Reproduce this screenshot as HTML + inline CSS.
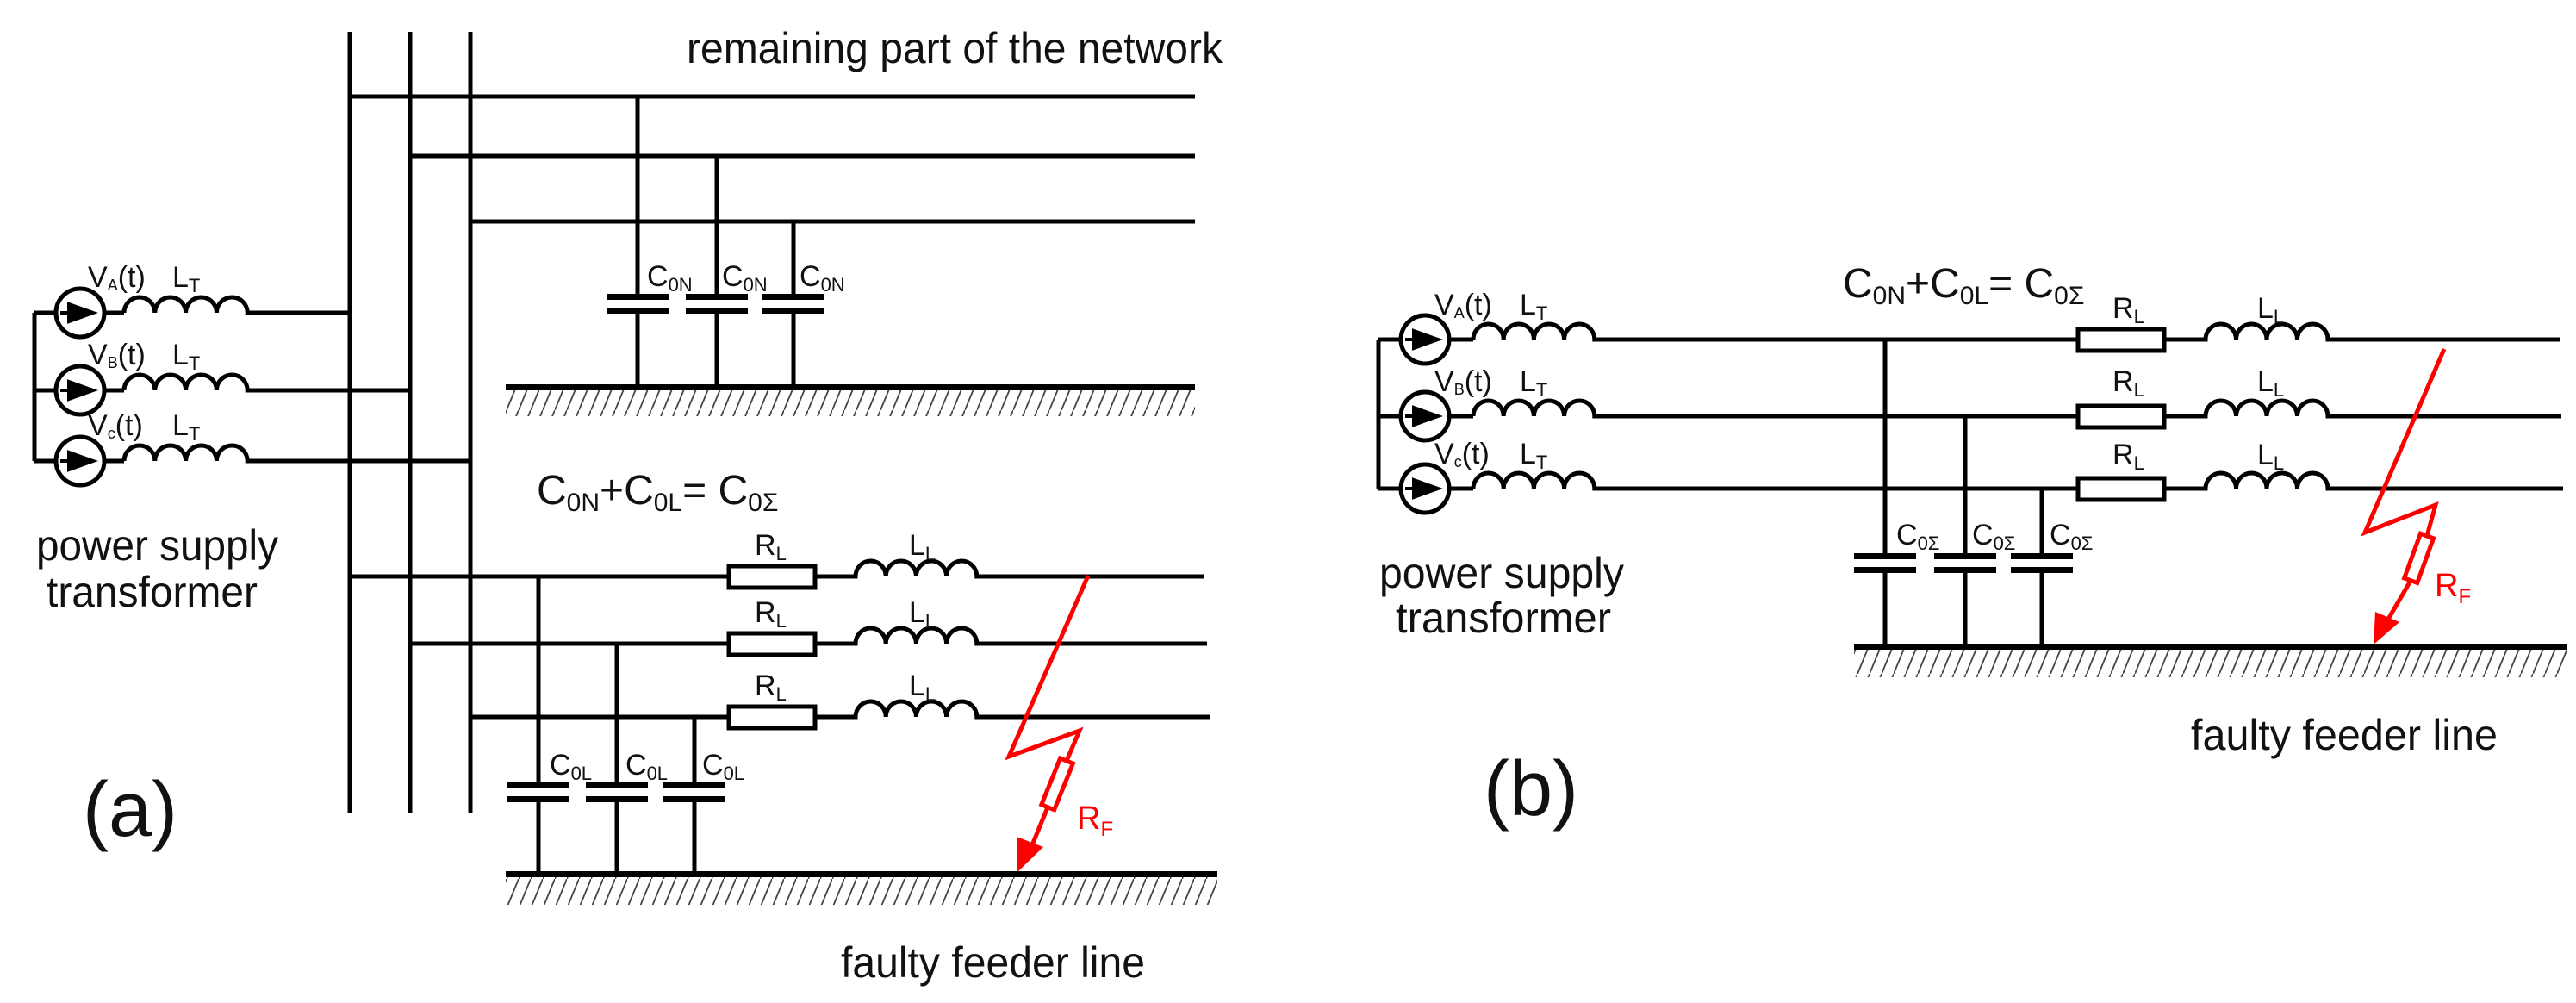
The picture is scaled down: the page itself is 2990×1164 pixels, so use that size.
<!DOCTYPE html>
<html><head><meta charset="utf-8"><style>
html,body{margin:0;padding:0;background:#fff}
svg{display:block}
text{font-family:"Liberation Sans",sans-serif;fill:#111}
</style></head><body>
<svg width="2990" height="1164" viewBox="0 0 2990 1164" xmlns="http://www.w3.org/2000/svg">
<defs>
<pattern id="h" width="14" height="34" patternUnits="userSpaceOnUse">
<line x1="14" y1="0" x2="0" y2="34" stroke="#444" stroke-width="1.8"/>
</pattern>
</defs>
<g stroke="#000" stroke-width="5" fill="none" stroke-linecap="butt">
<line x1="406" y1="37" x2="406" y2="944"/>
<line x1="476" y1="37" x2="476" y2="944"/>
<line x1="546" y1="37" x2="546" y2="944"/>
<line x1="406" y1="112" x2="1387" y2="112"/>
<line x1="476" y1="181" x2="1387" y2="181"/>
<line x1="546" y1="257" x2="1387" y2="257"/>
<line x1="740" y1="112" x2="740" y2="345"/><line x1="740" y1="360" x2="740" y2="449"/>
<line x1="832" y1="181" x2="832" y2="345"/><line x1="832" y1="360" x2="832" y2="449"/>
<line x1="921" y1="257" x2="921" y2="345"/><line x1="921" y1="360" x2="921" y2="449"/>
<line x1="40" y1="363" x2="40" y2="535"/>
<line x1="40" y1="363" x2="65" y2="363"/><line x1="40" y1="453" x2="65" y2="453"/><line x1="40" y1="535" x2="65" y2="535"/>
<circle cx="93" cy="363" r="28"/><circle cx="93" cy="453" r="28"/><circle cx="93" cy="535" r="28"/>
<line x1="121" y1="363" x2="144" y2="363"/><line x1="121" y1="453" x2="144" y2="453"/><line x1="121" y1="535" x2="144" y2="535"/>
<path d="M144 363 a17.9 18 0 0 1 35.8 0 a17.9 18 0 0 1 35.8 0 a17.9 18 0 0 1 35.8 0 a17.9 18 0 0 1 35.8 0 H406"/>
<path d="M144 453 a17.9 18 0 0 1 35.8 0 a17.9 18 0 0 1 35.8 0 a17.9 18 0 0 1 35.8 0 a17.9 18 0 0 1 35.8 0 H476"/>
<path d="M144 535 a17.9 18 0 0 1 35.8 0 a17.9 18 0 0 1 35.8 0 a17.9 18 0 0 1 35.8 0 a17.9 18 0 0 1 35.8 0 H546"/>
<path d="M406 669 H846 M946 669 H993 a17.6 18 0 0 1 35.2 0 a17.6 18 0 0 1 35.2 0 a17.6 18 0 0 1 35.2 0 a17.6 18 0 0 1 35.2 0 H1397"/>
<path d="M476 747 H846 M946 747 H993 a17.6 18 0 0 1 35.2 0 a17.6 18 0 0 1 35.2 0 a17.6 18 0 0 1 35.2 0 a17.6 18 0 0 1 35.2 0 H1401"/>
<path d="M546 832 H846 M946 832 H993 a17.6 18 0 0 1 35.2 0 a17.6 18 0 0 1 35.2 0 a17.6 18 0 0 1 35.2 0 a17.6 18 0 0 1 35.2 0 H1405"/>
<rect x="846" y="657" width="100" height="25"/>
<rect x="846" y="735" width="100" height="25"/>
<rect x="846" y="820" width="100" height="25"/>
<line x1="625" y1="669" x2="625" y2="912"/><line x1="625" y1="928" x2="625" y2="1014"/>
<line x1="716" y1="747" x2="716" y2="912"/><line x1="716" y1="928" x2="716" y2="1014"/>
<line x1="806" y1="832" x2="806" y2="912"/><line x1="806" y1="928" x2="806" y2="1014"/>

<line x1="1600" y1="394" x2="1600" y2="567"/>
<line x1="1600" y1="394" x2="1626" y2="394"/><line x1="1600" y1="483" x2="1626" y2="483"/><line x1="1600" y1="567" x2="1626" y2="567"/>
<circle cx="1654" cy="394" r="28"/><circle cx="1654" cy="483" r="28"/><circle cx="1654" cy="567" r="28"/>
<line x1="1682" y1="394" x2="1710" y2="394"/><line x1="1682" y1="483" x2="1710" y2="483"/><line x1="1682" y1="567" x2="1710" y2="567"/>
<path d="M1710 394 a17.6 18 0 0 1 35.2 0 a17.6 18 0 0 1 35.2 0 a17.6 18 0 0 1 35.2 0 a17.6 18 0 0 1 35.2 0 H2412 M2512 394 H2560 a17.75 18 0 0 1 35.5 0 a17.75 18 0 0 1 35.5 0 a17.75 18 0 0 1 35.5 0 a17.75 18 0 0 1 35.5 0 H2971"/>
<path d="M1710 483 a17.6 18 0 0 1 35.2 0 a17.6 18 0 0 1 35.2 0 a17.6 18 0 0 1 35.2 0 a17.6 18 0 0 1 35.2 0 H2412 M2512 483 H2560 a17.75 18 0 0 1 35.5 0 a17.75 18 0 0 1 35.5 0 a17.75 18 0 0 1 35.5 0 a17.75 18 0 0 1 35.5 0 H2973"/>
<path d="M1710 567 a17.6 18 0 0 1 35.2 0 a17.6 18 0 0 1 35.2 0 a17.6 18 0 0 1 35.2 0 a17.6 18 0 0 1 35.2 0 H2412 M2512 567 H2560 a17.75 18 0 0 1 35.5 0 a17.75 18 0 0 1 35.5 0 a17.75 18 0 0 1 35.5 0 a17.75 18 0 0 1 35.5 0 H2975"/>
<rect x="2412" y="382" width="100" height="25"/>
<rect x="2412" y="471" width="100" height="25"/>
<rect x="2412" y="555" width="100" height="25"/>
<line x1="2188" y1="394" x2="2188" y2="646"/><line x1="2188" y1="662" x2="2188" y2="750"/>
<line x1="2281" y1="483" x2="2281" y2="646"/><line x1="2281" y1="662" x2="2281" y2="750"/>
<line x1="2370" y1="567" x2="2370" y2="646"/><line x1="2370" y1="662" x2="2370" y2="750"/>
</g>
<g fill="#000">
<rect x="704" y="341" width="72" height="7"/><rect x="704" y="357" width="72" height="7"/>
<rect x="796" y="341" width="72" height="7"/><rect x="796" y="357" width="72" height="7"/>
<rect x="885" y="341" width="72" height="7"/><rect x="885" y="357" width="72" height="7"/>
<rect x="587" y="446" width="800" height="7"/>
<rect x="589" y="908" width="72" height="7"/><rect x="589" y="924" width="72" height="7"/>
<rect x="680" y="908" width="72" height="7"/><rect x="680" y="924" width="72" height="7"/>
<rect x="770" y="908" width="72" height="7"/><rect x="770" y="924" width="72" height="7"/>
<rect x="587" y="1011" width="826" height="7"/>
<rect x="2152" y="642" width="72" height="7"/><rect x="2152" y="658" width="72" height="7"/>
<rect x="2245" y="642" width="72" height="7"/><rect x="2245" y="658" width="72" height="7"/>
<rect x="2334" y="642" width="72" height="7"/><rect x="2334" y="658" width="72" height="7"/>
<rect x="2152" y="747" width="828" height="7"/>
<path d="M80 353 L108 363 L80 373 Z M70 363 H90" stroke="#000" stroke-width="4"/>
<path d="M80 443 L108 453 L80 463 Z M70 453 H90" stroke="#000" stroke-width="4"/>
<path d="M80 525 L108 535 L80 545 Z M70 535 H90" stroke="#000" stroke-width="4"/>
<path d="M1641 384 L1669 394 L1641 404 Z M1631 394 H1651" stroke="#000" stroke-width="4"/>
<path d="M1641 473 L1669 483 L1641 493 Z M1631 483 H1651" stroke="#000" stroke-width="4"/>
<path d="M1641 557 L1669 567 L1641 577 Z M1631 567 H1651" stroke="#000" stroke-width="4"/>
</g>
<rect x="587" y="453" width="800" height="30" fill="url(#h)"/>
<rect x="587" y="1018" width="826" height="32" fill="url(#h)"/>
<rect x="2152" y="754" width="828" height="32" fill="url(#h)"/>
<g stroke="#f00" stroke-width="5" fill="none" stroke-linejoin="miter">
<path d="M1263 668 L1171 878 L1253 848 L1238 883"/>
<rect x="-8" y="0" width="16" height="58" transform="translate(1238 883) rotate(22)"/>
<line x1="1216" y1="937" x2="1195" y2="988"/>
<path d="M2837 405 L2745 618 L2827 586 L2817 622"/>
<rect x="-8" y="0" width="16" height="55" transform="translate(2817 622) rotate(20)"/>
<line x1="2798" y1="674" x2="2770" y2="722"/>
</g>
<path d="M1181 1012 L1180 971 L1211 983 Z" fill="#f00"/>
<path d="M2755 748 L2757 710 L2785 722 Z" fill="#f00"/>
<g font-size="34" fill="#222">
<text x="102" y="333">V<tspan font-size="18" dy="4">A</tspan><tspan dy="-4">(t)</tspan></text>
<text x="102" y="423">V<tspan font-size="18" dy="4">B</tspan><tspan dy="-4">(t)</tspan></text>
<text x="102" y="505">V<tspan font-size="18" dy="4">c</tspan><tspan dy="-4">(t)</tspan></text>
<text x="200" y="333">L<tspan font-size="22" dy="6">T</tspan></text>
<text x="200" y="423">L<tspan font-size="22" dy="6">T</tspan></text>
<text x="200" y="505">L<tspan font-size="22" dy="6">T</tspan></text>
<text x="751" y="332">C<tspan font-size="22" dy="6">0N</tspan></text>
<text x="838" y="332">C<tspan font-size="22" dy="6">0N</tspan></text>
<text x="928" y="332">C<tspan font-size="22" dy="6">0N</tspan></text>
<text x="638" y="899">C<tspan font-size="22" dy="6">0L</tspan></text>
<text x="726" y="899">C<tspan font-size="22" dy="6">0L</tspan></text>
<text x="815" y="899">C<tspan font-size="22" dy="6">0L</tspan></text>
<text x="876" y="644">R<tspan font-size="22" dy="6">L</tspan></text>
<text x="876" y="722">R<tspan font-size="22" dy="6">L</tspan></text>
<text x="876" y="807">R<tspan font-size="22" dy="6">L</tspan></text>
<text x="1055" y="644">L<tspan font-size="22" dy="6">L</tspan></text>
<text x="1055" y="722">L<tspan font-size="22" dy="6">L</tspan></text>
<text x="1055" y="807">L<tspan font-size="22" dy="6">L</tspan></text>
<text x="1665" y="365">V<tspan font-size="18" dy="4">A</tspan><tspan dy="-4">(t)</tspan></text>
<text x="1665" y="454">V<tspan font-size="18" dy="4">B</tspan><tspan dy="-4">(t)</tspan></text>
<text x="1665" y="538">V<tspan font-size="18" dy="4">c</tspan><tspan dy="-4">(t)</tspan></text>
<text x="1764" y="365">L<tspan font-size="22" dy="6">T</tspan></text>
<text x="1764" y="454">L<tspan font-size="22" dy="6">T</tspan></text>
<text x="1764" y="538">L<tspan font-size="22" dy="6">T</tspan></text>
<text x="2201" y="632">C<tspan font-size="22" dy="6">0Σ</tspan></text>
<text x="2289" y="632">C<tspan font-size="22" dy="6">0Σ</tspan></text>
<text x="2379" y="632">C<tspan font-size="22" dy="6">0Σ</tspan></text>
<text x="2452" y="369">R<tspan font-size="22" dy="6">L</tspan></text>
<text x="2452" y="454">R<tspan font-size="22" dy="6">L</tspan></text>
<text x="2452" y="539">R<tspan font-size="22" dy="6">L</tspan></text>
<text x="2620" y="369">L<tspan font-size="22" dy="6">L</tspan></text>
<text x="2620" y="454">L<tspan font-size="22" dy="6">L</tspan></text>
<text x="2620" y="539">L<tspan font-size="22" dy="6">L</tspan></text>
</g>
<text x="1250" y="962" font-size="38" style="fill:#f00">R<tspan font-size="24" dy="8">F</tspan></text>
<text x="2826" y="692" font-size="38" style="fill:#f00">R<tspan font-size="24" dy="8">F</tspan></text>
<g font-size="50">
<text x="797" y="73" textLength="622" lengthAdjust="spacingAndGlyphs">remaining part of the network</text>
<text x="42" y="650" textLength="281" lengthAdjust="spacingAndGlyphs">power supply</text>
<text x="54" y="704" textLength="245" lengthAdjust="spacingAndGlyphs">transformer</text>
<text x="976" y="1134" textLength="353" lengthAdjust="spacingAndGlyphs">faulty feeder line</text>
<text x="1601" y="682" textLength="284" lengthAdjust="spacingAndGlyphs">power supply</text>
<text x="1620" y="734" textLength="250" lengthAdjust="spacingAndGlyphs">transformer</text>
<text x="2543" y="870" textLength="356" lengthAdjust="spacingAndGlyphs">faulty feeder line</text>
</g>
<g font-size="48">
<text x="623" y="585">C<tspan font-size="30" dy="8">0N</tspan><tspan dy="-8">+C</tspan><tspan font-size="30" dy="8">0L</tspan><tspan dy="-8">= C</tspan><tspan font-size="30" dy="8">0Σ</tspan></text>
<text x="2139" y="345">C<tspan font-size="30" dy="8">0N</tspan><tspan dy="-8">+C</tspan><tspan font-size="30" dy="8">0L</tspan><tspan dy="-8">= C</tspan><tspan font-size="30" dy="8">0Σ</tspan></text>
</g>
<text x="96" y="970" font-size="90">(a)</text>
<text x="1722" y="946" font-size="90">(b)</text>
</svg>
</body></html>
